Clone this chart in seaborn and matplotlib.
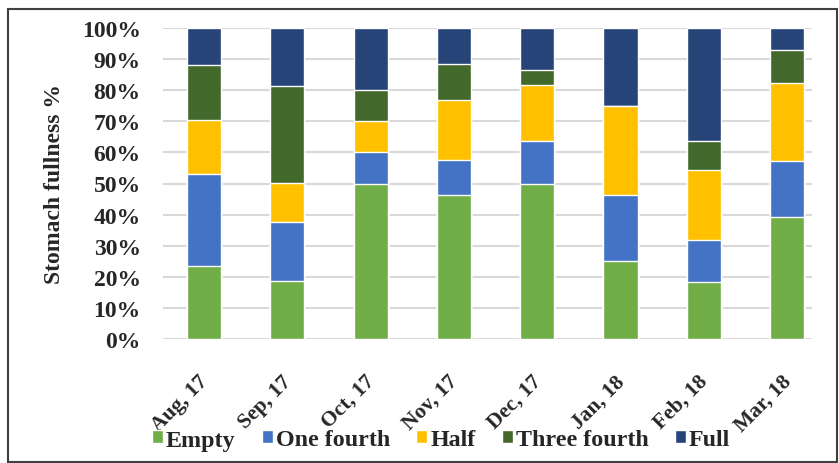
import matplotlib
matplotlib.use("Agg")
import matplotlib.pyplot as plt
import matplotlib.transforms as mtransforms
import seaborn as sns
import numpy as np
import pandas as pd
from matplotlib.patches import Rectangle
from matplotlib.ticker import PercentFormatter

# Stomach fullness by month (% of stomachs per class)
months = ["Aug, 17", "Sep, 17", "Oct, 17", "Nov, 17", "Dec, 17", "Jan, 18", "Feb, 18", "Mar, 18"]
empty = [23.5, 18.8, 50.0, 46.2, 50.0, 25.0, 18.2, 39.3]
one_fourth = [29.4, 18.8, 10.0, 11.5, 13.6, 21.4, 13.6, 17.9]
half = [17.6, 12.5, 10.0, 19.2, 18.2, 28.6, 22.7, 25.0]
three_fourth = [17.6, 31.2, 10.0, 11.5, 4.6, 0.0, 9.1, 10.7]
full = [11.9, 18.7, 20.0, 11.6, 13.6, 25.0, 36.4, 7.1]

classes = ["Empty", "One fourth", "Half", "Three fourth", "Full"]
colors = ["#70AD47", "#4472C4", "#FFC000", "#43682B", "#264478"]

df = pd.DataFrame({"month": months, "Empty": empty, "One fourth": one_fourth,
                   "Half": half, "Three fourth": three_fourth, "Full": full})
cum = df[classes].cumsum(axis=1)

sns.set_theme(style="white")
plt.rcParams["font.family"] = ["Liberation Serif", "DejaVu Serif"]
plt.rcParams["font.weight"] = "bold"

fig = plt.figure(figsize=(8.39, 4.64), dpi=100)
ax = fig.add_axes([163 / 839, 1 - 340 / 464, 649 / 839, 311 / 464])

# draw cumulative totals from the top class down so the stacks show through
for cls, col in reversed(list(zip(classes, colors))):
    sns.barplot(x=df["month"], y=cum[cls], color=col, width=0.41,
                saturation=1, ax=ax, label=cls, zorder=3)

ax.set_ylim(0, 100)
ax.set_xlim(-0.493, 7.30)
ax.set_yticks(np.arange(0, 101, 10))
ax.yaxis.set_major_formatter(PercentFormatter(decimals=0))
ax.grid(axis="y", color="#d9d9d9", lw=1.5, zorder=0)
for s in ax.spines.values():
    s.set_visible(False)

ax.tick_params(axis="y", length=0, pad=16, labelsize=17)
ax.tick_params(axis="x", length=0, pad=23)
ax.set_xticks(range(len(months)), months, rotation=45, ha="right", va="top",
              rotation_mode="anchor", fontsize=15.5, fontweight="bold")
# nudge the month labels a little to the left, as in the original
shift = mtransforms.ScaledTranslation(-6 / 100, 0, fig.dpi_scale_trans)
for lab in ax.get_xticklabels():
    lab.set_transform(lab.get_transform() + shift)
for lab in ax.get_yticklabels():
    lab.set_fontweight("bold")

ax.set_xlabel("")
ax.set_ylabel("Stomach fullness %", fontsize=17, fontweight="bold", labelpad=12)

handles, labels = ax.get_legend_handles_labels()
order = [labels.index(c) for c in classes]
fig.legend([handles[i] for i in order], classes, loc="center",
           bbox_to_anchor=(441 / 839, 1 - 441 / 464), ncol=5, frameon=False,
           handlelength=0.46, handleheight=0.46, handletextpad=0.12,
           columnspacing=1.1, prop={"size": 17.3, "weight": "bold"})
if ax.legend_:
    ax.legend_.remove()

# outer chart border
fig.patches.append(Rectangle((8 / 839, 1 / 464), 829 / 839, 453 / 464,
                             transform=fig.transFigure, fill=False,
                             edgecolor="#404040", lw=1.5))

fig.savefig("out.png", dpi=100)
